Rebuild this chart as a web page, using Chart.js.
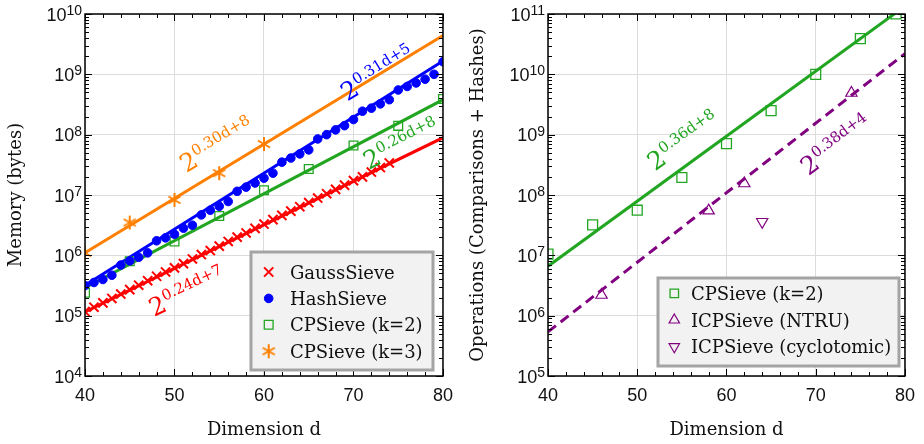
<!DOCTYPE html>
<html>
<head>
<meta charset="utf-8">
<script src="https://cdn.jsdelivr.net/npm/chart.js@4.4.1/dist/chart.umd.min.js"></script>
<style>
body{margin:0;background:#fff;}
#wrap{display:flex;width:924px;height:444px;}
canvas{display:block;}
</style>
</head>
<body>
<div id="wrap">
<canvas id="memChart" width="462" height="444"></canvas>
<canvas id="opsChart" width="462" height="444"></canvas>
</div>
<script>
// ---- left panel: memory (bytes) ----
var gaussDims = [40,41,42,43,44,45,46,47,48,49,50,51,52,53,54,55,56,57,58,59,60,61,62,63,64,65,66,67,68,69,70,71,72,73,74];
var gaussMem = [1.17e5,1.38e5,1.63e5,1.93e5,2.28e5,2.7e5,3.2e5,3.8e5,4.5e5,5.3e5,6.2e5,7.3e5,8.7e5,1.03e6,1.2e6,1.42e6,1.7e6,2.0e6,2.35e6,2.8e6,
                3.3e6,3.9e6,4.6e6,5.4e6,6.4e6,7.5e6,8.9e6,1.05e7,1.24e7,1.46e7,1.73e7,2.0e7,2.4e7,2.85e7,3.4e7];
var hashDims = [40,41,42,43,44,45,46,47,48,49,50,51,52,53,54,55,56,57,58,59,60,61,62,63,64,65,66,67,68,69,70,71,72,73,74,75,76,77,78,79,80];
var hashMem = [3.16e5,3.55e5,3.98e5,4.68e5,6.9e5,8.1e5,9.3e5,1.1e6,1.74e6,1.95e6,2.24e6,2.82e6,3.16e6,4.68e6,5.6e6,6.5e6,7.8e6,1.15e7,1.35e7,1.58e7,
               1.9e7,2.3e7,3.5e7,4.1e7,4.8e7,5.6e7,8.5e7,1.0e8,1.2e8,1.41e8,1.78e8,2.45e8,2.75e8,3.24e8,3.8e8,5.5e8,6.3e8,7.2e8,8.3e8,1.0e9,1.62e9];
var cp2Dims = [40,45,50,55,60,65,70,75,80];
var cp2Mem = [2.4e5,8e5,1.7e6,4.5e6,1.2e7,2.7e7,6.6e7,1.4e8,3.9e8];
var cp3Dims = [40,45,50,55,60];
var cp3Mem = [1.1e6,3.5e6,8.3e6,2.3e7,7e7];
var fitDims = [40,80];
var gaussFit = [1.15e5,8.9e7];
var hashFit = [3.2e5,1.66e9];
var cp2Fit = [2.9e5,3.8e8];
var cp3Fit = [1.1e6,4.4e9];
var memTicks = [1e4,1e5,1e6,1e7,1e8,1e9,1e10];
var memTickExp = ['4','5','6','7','8','9','10'];

// ---- right panel: operations ----
var cpOpsDims = [40,45,50,55,60,65,70,75,79];
var cpOps = [1.05e7,3.2e7,5.6e7,1.95e8,7.1e8,2.5e9,1e10,3.9e10,1e11];
var ntruDims = [46,58,62,74];
var ntruOps = [2.2e6,5.5e7,1.55e8,4.9e9];
var cycloDims = [64];
var cycloOps = [3.6e7];
var cpOpsFit = [6.6e6,1.35e11];
var ntruFit = [5.4e5,2.2e10];
var opsTicks = [1e5,1e6,1e7,1e8,1e9,1e10,1e11];
var opsTickExp = ['5','6','7','8','9','10','11'];

var dimTicks = [40,50,60,70,80];

var RED = '#ff0000', BLUE = '#0000ff', GREEN = '#22a622', ORANGE = '#ff8000', PURPLE = '#800080';
var SERIF = "'DejaVu Serif', serif", SANS = "'Liberation Sans', Arial, sans-serif";

function pts(xs, ys) {
    return xs.map(function(x, i){ return {x: x, y: ys[i]}; });
}

function makeStar(color) {
    var c = document.createElement('canvas');
    c.width = c.height = 16;
    var g = c.getContext('2d');
    g.strokeStyle = color; g.lineWidth = 2;
    g.beginPath();
    for (var k = 0; k < 3; k++) {
        var ang = Math.PI / 2 + k * Math.PI / 3;
        g.moveTo(8 + Math.cos(ang) * 7, 8 - Math.sin(ang) * 7);
        g.lineTo(8 - Math.cos(ang) * 7, 8 + Math.sin(ang) * 7);
    }
    g.stroke();
    return c;
}

function marks(label, xs, ys, color, style, radius, bw, fill, rot) {
    return {
        label: label, data: pts(xs, ys), order: 0, clip: 0,
        pointStyle: style, pointRadius: radius, pointRotation: rot || 0,
        pointBorderColor: color, pointBackgroundColor: fill || 'rgba(0,0,0,0)',
        pointBorderWidth: bw, borderColor: color
    };
}

function fit(ys, color, dash) {
    return {
        isFit: true, data: pts(fitDims, ys), showLine: true, order: 2, clip: 0,
        borderColor: color, borderWidth: 3, borderDash: dash || [], pointRadius: 0
    };
}

// small fallback in case helpers are not exposed
function drawMark(ctx, o, x, y) {
    if (Chart.helpers && Chart.helpers.drawPoint) { Chart.helpers.drawPoint(ctx, o, x, y); return; }
    if (o.pointStyle instanceof HTMLCanvasElement) {
        ctx.drawImage(o.pointStyle, x - o.pointStyle.width / 2, y - o.pointStyle.height / 2);
        return;
    }
    var r = o.radius;
    ctx.beginPath();
    if (o.pointStyle === 'circle') { ctx.arc(x, y, r, 0, Math.PI * 2); ctx.fill(); }
    else if (o.pointStyle === 'rect') { var s = r * Math.SQRT1_2; ctx.rect(x - s, y - s, 2 * s, 2 * s); }
    else if (o.pointStyle === 'crossRot') { var c = r * Math.SQRT1_2; ctx.moveTo(x - c, y - c); ctx.lineTo(x + c, y + c); ctx.moveTo(x + c, y - c); ctx.lineTo(x - c, y + c); }
    else if (o.pointStyle === 'triangle') {
        var rad = (o.rotation || 0) * Math.PI / 180;
        for (var k = 0; k < 3; k++) { var t = rad + k * 2 * Math.PI / 3; ctx.lineTo(x + Math.sin(t) * r, y - Math.cos(t) * r); }
        ctx.closePath();
    }
    ctx.stroke();
}

// frame, minor ticks, y labels with exponents, legend box, fit annotations
var paperStyle = {
    id: 'paperStyle',
    afterDraw: function(chart, args, opts) {
        var ctx = chart.ctx, a = chart.chartArea;
        var xs = chart.scales.x, ys = chart.scales.y;
        ctx.save();

        ctx.strokeStyle = '#000';
        ctx.lineWidth = 1;
        ctx.beginPath();
        for (var d = xs.min; d <= xs.max; d += 2) {
            var px = Math.round(xs.getPixelForValue(d)) + 0.5;
            var len = (d % 10 === 0) ? 7 : 4;
            ctx.moveTo(px, a.bottom); ctx.lineTo(px, a.bottom - len);
            ctx.moveTo(px, a.top); ctx.lineTo(px, a.top + len);
        }
        var e0 = Math.round(Math.log10(ys.min)), e1 = Math.round(Math.log10(ys.max));
        for (var e = e0; e <= e1; e++) {
            for (var m = 1; m <= 9; m++) {
                var v = m * Math.pow(10, e);
                if (v > ys.max * 1.0001) break;
                var py = Math.round(ys.getPixelForValue(v)) + 0.5;
                var l = m === 1 ? 7 : 4;
                ctx.moveTo(a.left, py); ctx.lineTo(a.left + l, py);
                ctx.moveTo(a.right, py); ctx.lineTo(a.right - l, py);
            }
        }
        ctx.stroke();

        ctx.lineWidth = 1.5;
        ctx.strokeRect(a.left, a.top, a.right - a.left, a.bottom - a.top);

        // y tick labels: 10 with superscript
        ctx.fillStyle = '#111';
        ctx.textBaseline = 'alphabetic';
        ctx.textAlign = 'left';
        opts.ticks.forEach(function(v, i) {
            var py = ys.getPixelForValue(v);
            ctx.font = '14px ' + SANS;
            var we = ctx.measureText(opts.exps[i]).width;
            ctx.font = '18px ' + SANS;
            var wb = ctx.measureText('10').width;
            var right = a.left - 3;
            ctx.fillText('10', right - we - wb, py + 6.5);
            ctx.font = '14px ' + SANS;
            ctx.fillText(opts.exps[i], right - we, py + 1);
        });

        // fit annotations
        opts.notes.forEach(function(n) {
            var x = xs.getPixelForValue(n.d), y = ys.getPixelForValue(n.v);
            ctx.save();
            ctx.translate(x, y);
            ctx.rotate(n.angle * Math.PI / 180);
            ctx.fillStyle = n.color;
            ctx.font = '25px ' + SERIF;
            ctx.fillText('2', 0, 0);
            var w = ctx.measureText('2').width;
            ctx.font = '15px ' + SERIF;
            ctx.fillText(n.exp, w + 0.5, -10);
            ctx.restore();
        });

        // legend
        var L = opts.legend;
        var bx = a.right - L.right - L.width, by = a.bottom - L.bottom - L.height;
        ctx.fillStyle = '#f2f2f2';
        ctx.fillRect(bx, by, L.width, L.height);
        ctx.strokeStyle = '#a4a4a4';
        ctx.lineWidth = 3;
        ctx.strokeRect(bx, by, L.width, L.height);
        var row = 0;
        chart.data.datasets.forEach(function(ds) {
            if (ds.isFit) return;
            var cy = by + L.rowTop + row * L.rowGap;
            row++;
            ctx.strokeStyle = ds.pointBorderColor;
            ctx.fillStyle = ds.pointBackgroundColor;
            ctx.lineWidth = ds.pointBorderWidth;
            ctx.setLineDash([]);
            drawMark(ctx, {
                pointStyle: ds.pointStyle, radius: L.markRadius || ds.pointRadius,
                rotation: ds.pointRotation, borderWidth: ds.pointBorderWidth
            }, bx + L.markX, cy);
            ctx.fillStyle = '#111';
            ctx.font = '18px ' + SERIF;
            ctx.textAlign = 'left';
            ctx.fillText(ds.label, bx + L.textX, cy + 6.5);
        });
        ctx.restore();
    }
};

function makeOptions(yTicks, yTitle, yWidth, padRight, style) {
    return {
        responsive: false,
        animation: false,
        events: [],
        layout: {padding: {top: 14, right: padRight, bottom: 0, left: 0}},
        plugins: {legend: {display: false}, tooltip: {enabled: false}, paperStyle: style},
        scales: {
            x: {
                type: 'linear', min: 40, max: 80,
                afterBuildTicks: function(s) { s.ticks = dimTicks.map(function(v){ return {value: v}; }); },
                afterFit: function(s) { s.height = 68; },
                grid: {color: '#dcdcdc', drawTicks: false},
                border: {display: false},
                ticks: {color: '#111', padding: 9, font: {family: SANS, size: 18}, maxRotation: 0,
                        callback: function(v) { return String(v); }},
                title: {display: true, text: 'Dimension d', color: '#111',
                        font: {family: SERIF, size: 18}, padding: {top: 0, bottom: 3}}
            },
            y: {
                type: 'logarithmic', min: yTicks[0], max: yTicks[yTicks.length - 1],
                afterBuildTicks: function(s) { s.ticks = yTicks.map(function(v){ return {value: v}; }); },
                afterFit: function(s) { s.width = yWidth; },
                grid: {color: '#dcdcdc', drawTicks: false},
                border: {display: false},
                ticks: {display: false},
                title: {display: true, text: yTitle, color: '#111',
                        font: {family: SERIF, size: 18}, padding: {top: 6, bottom: 0}}
            }
        }
    };
}

var star = makeStar(ORANGE);

new Chart(document.getElementById('memChart'), {
    type: 'scatter',
    data: {
        datasets: [
            marks('GaussSieve', gaussDims, gaussMem, RED, 'crossRot', 6.5, 2),
            marks('HashSieve', hashDims, hashMem, BLUE, 'circle', 4.3, 1, BLUE),
            marks('CPSieve (k=2)', cp2Dims, cp2Mem, GREEN, 'rect', 6.2, 1.3),
            marks('CPSieve (k=3)', cp3Dims, cp3Mem, ORANGE, star, 7, 2),
            fit(gaussFit, RED), fit(hashFit, BLUE), fit(cp2Fit, GREEN), fit(cp3Fit, ORANGE)
        ]
    },
    options: makeOptions(memTicks, 'Memory (bytes)', 85, 15, {
        ticks: memTicks, exps: memTickExp,
        legend: {right: 10, bottom: 6, width: 182, height: 118, rowTop: 20, rowGap: 26.4, markX: 17.7, textX: 39},
        notes: [
            {exp: '0.30d+8', d: 51.3, v: 2.3e7, angle: -31, color: ORANGE},
            {exp: '0.31d+5', d: 69.3, v: 3.5e8, angle: -31.5, color: BLUE},
            {exp: '0.26d+8', d: 71.7, v: 2.6e7, angle: -27, color: GREEN},
            {exp: '0.24d+7', d: 47.7, v: 9.5e4, angle: -25.5, color: RED}
        ]
    }),
    plugins: [paperStyle]
});

new Chart(document.getElementById('opsChart'), {
    type: 'scatter',
    data: {
        datasets: [
            marks('CPSieve (k=2)', cpOpsDims, cpOps, GREEN, 'rect', 7, 1.3),
            marks('ICPSieve (NTRU)', ntruDims, ntruOps, PURPLE, 'triangle', 6.5, 1.2),
            marks('ICPSieve (cyclotomic)', cycloDims, cycloOps, PURPLE, 'triangle', 6.5, 1.2, null, 180),
            fit(cpOpsFit, GREEN), fit(ntruFit, PURPLE, [10, 6])
        ]
    },
    options: makeOptions(opsTicks, 'Operations (Comparisons + Hashes)', 86, 14, {
        ticks: opsTicks, exps: opsTickExp,
        legend: {right: 6, bottom: 10, width: 241, height: 88, rowTop: 15.3, rowGap: 26.7, markX: 16.3, textX: 33, markRadius: 6},
        notes: [
            {exp: '0.36d+8', d: 52.0, v: 2.45e8, angle: -35.5, color: GREEN},
            {exp: '0.38d+4', d: 69.2, v: 2.05e8, angle: -37, color: PURPLE}
        ]
    }),
    plugins: [paperStyle]
});
</script>
</body>
</html>
